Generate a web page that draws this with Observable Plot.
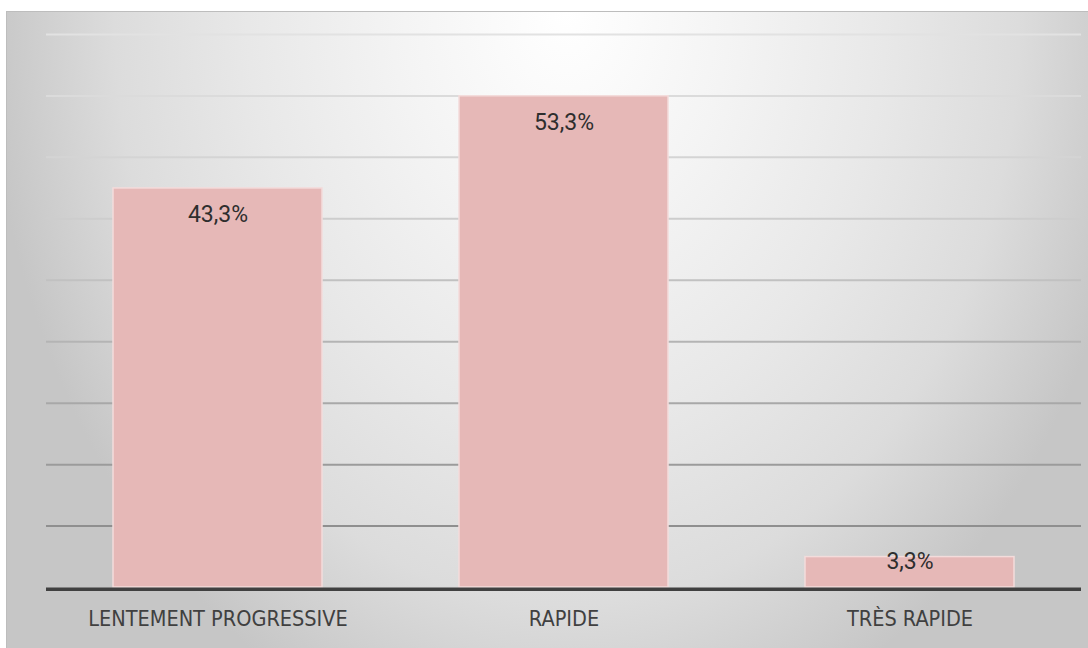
<!DOCTYPE html>
<html>
<head>
<meta charset="utf-8">
<script src="https://cdn.jsdelivr.net/npm/d3@7"></script>
<script src="https://cdn.jsdelivr.net/npm/@observablehq/plot@0.6"></script>
<style>
  html, body { margin: 0; padding: 0; background: #ffffff; overflow: hidden; width: 1088px; height: 648px; }
  #frame {
    position: absolute; left: 6px; top: 11px;
    width: 1100px; height: 660px;
    border-top: 1px solid #bdbdbd; border-left: 1px solid #bdbdbd;
    background: radial-gradient(ellipse 580px 760px at 560px 0px,
      #ffffff 0%, #f4f4f4 28%, #e8e8e8 55%, #dcdcdc 78%, #d0d0d0 90%, #c6c6c6 100%);
  }
  #frame svg { position: absolute; left: -1px; top: -1px; background: transparent; }
</style>
</head>
<body>
<div id="frame"></div>
<script>
// Evolution speed categories and their share of respondents (%)
const categories = ["LENTEMENT PROGRESSIVE", "RAPIDE", "TRÈS RAPIDE"];
const shares = [43.3, 53.3, 3.3];
const shareLabels = ["43,3%", "53,3%", "3,3%"];
// Horizontal gridline levels (%)
const gridLevels = [6.67, 13.33, 20, 26.67, 33.33, 40, 46.67, 53.33, 60];

const rows = categories.map((c, i) => ({category: c, share: shares[i], label: shareLabels[i]}));

// gridlines darken towards the baseline
const gridShade = d3.scaleLinear().domain([6.67, 40, 60]).range(["#8f8f8f", "#cdcdcd", "#e2e2e2"]);

const valueFont = "Roboto, 'Open Sans', sans-serif";

const chart = Plot.plot({
  width: 1082,
  height: 637,
  marginLeft: 40,
  marginRight: 7,
  marginTop: 23,
  marginBottom: 61,
  x: {domain: categories, paddingInner: 0.397, paddingOuter: 0.19, axis: null},
  y: {domain: [0, 60], axis: null},
  marks: [
    Plot.ruleY(gridLevels, {stroke: d => gridShade(d), strokeWidth: 2}),
    Plot.barY(rows, {x: "category", y: "share", fill: "#e6b8b7", stroke: "#f3dcdb", strokeWidth: 1.5}),
    Plot.ruleY([0], {stroke: "#404040", strokeWidth: 3.5, dy: 1.75}),
    Plot.text(rows.filter(d => d.share > 10), {
      x: "category", y: "share", text: "label", dy: 26,
      fontSize: 23, fontFamily: valueFont, fill: "#2e2e2e"
    }),
    Plot.text(rows.filter(d => d.share <= 10), {
      x: "category", y: "share", text: "label", dy: 5,
      fontSize: 23, fontFamily: valueFont, fill: "#2e2e2e"
    }),
    Plot.text(rows, {
      x: "category", y: 0, text: "category", dy: 32,
      fontSize: 21.5, fontFamily: "'Liberation Sans Narrow', 'DejaVu Sans Condensed', sans-serif",
      fill: "#404040"
    })
  ]
});

document.getElementById("frame").appendChild(chart);
</script>
</body>
</html>
